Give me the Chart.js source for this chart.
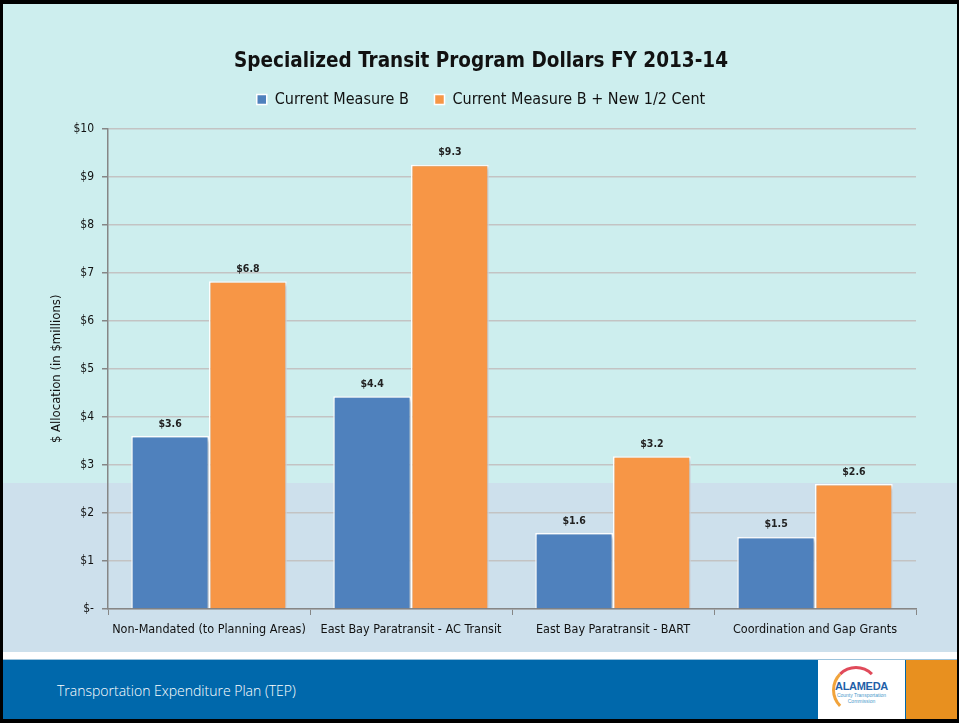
<!DOCTYPE html>
<html>
<head>
<meta charset="utf-8">
<script src="https://cdn.jsdelivr.net/npm/chart.js@4"></script>
<style>
  html, body { margin: 0; padding: 0; }
  body { width: 959px; height: 723px; position: relative; overflow: hidden; background: #000; }
  .slide { position: absolute; left: 3px; top: 4px; width: 954px; height: 715px; background: #cdeeee; overflow: hidden; }
  .bandeLower { position: absolute; left: 0; top: 479px; width: 954px; height: 169px; background: #cde0ec; }
  .faixaBranca { position: absolute; left: 0; top: 648px; width: 954px; height: 7px; background: #fff; border-bottom: 1px solid #9cc3dc; }
  .rodape { position: absolute; left: 0; top: 656px; width: 954px; height: 59px; background: #0068ab; }
  .rodape span { position: absolute; left: 54px; top: 21px; color: #fff; font: 300 14px 'Open Sans', sans-serif; }
  .logo { position: absolute; left: 815px; top: 656px; width: 87px; height: 59px; background: #fff; text-align: center; }
  .logo b { display: block; margin-top: 20px; font: bold 11px 'Liberation Sans', sans-serif; color: #1f5fa8; letter-spacing: -0.3px; }
  .logo i { display: block; font: 5px 'Liberation Sans', sans-serif; color: #4a9acb; font-style: normal; }
  .logo .arco { position: absolute; left: 14px; top: 6px; width: 42px; height: 42px; border-radius: 50%; border: 3px solid transparent; border-top-color: #e04a5a; border-left-color: #f1a33b; }
  .laranja { position: absolute; left: 903px; top: 656px; width: 51px; height: 59px; background: #e8901f; }
  canvas#grafico { position: absolute; left: 0; top: 0; }
</style>
</head>
<body>
<div class="slide">
  <div class="bandeLower"></div>
  <div class="faixaBranca"></div>
  <div class="rodape"><span>Transportation Expenditure Plan (TEP)</span></div>
  <div class="logo"><div class="arco"></div><b>ALAMEDA</b><i>County Transportation<br>Commission</i></div>
  <div class="laranja"></div>
</div>
<div style="position:absolute;left:0;top:0;width:959px;height:650px;">
  <canvas id="grafico"></canvas>
</div>
<script>
const categorias = ['Non-Mandated (to Planning Areas)', 'East Bay Paratransit - AC Transit', 'East Bay Paratransit - BART', 'Coordination and Gap Grants'];
const medidaAtual = [3.60, 4.43, 1.58, 1.50];
const medidaNova = [6.82, 9.25, 3.18, 2.60];
const ticksY = [0, 1, 2, 3, 4, 5, 6, 7, 8, 9, 10];

const fonteNarrow = "'Liberation Sans Narrow', 'DejaVu Sans Condensed', 'Liberation Sans', sans-serif";

const rotulosValores = {
  id: 'rotulosValores',
  afterDatasetsDraw(chart) {
    const ctx = chart.ctx;
    ctx.save();
    ctx.font = 'bold 10.5px ' + fonteNarrow;
    ctx.fillStyle = '#222';
    ctx.textAlign = 'center';
    ctx.textBaseline = 'bottom';
    chart.data.datasets.forEach(function(ds, i) {
      chart.getDatasetMeta(i).data.forEach(function(barra, j) {
        ctx.fillText('$' + ds.data[j].toFixed(1), barra.x, barra.y - 7);
      });
    });
    ctx.restore();
  }
};

const sombraBarras = {
  id: 'sombraBarras',
  beforeDatasetsDraw(chart) {
    const ctx = chart.ctx;
    ctx.save();
    ctx.shadowColor = 'rgba(60, 80, 110, 0.35)';
    ctx.shadowBlur = 4;
    ctx.shadowOffsetX = 2;
    ctx.shadowOffsetY = 2;
  },
  afterDatasetsDraw(chart) {
    chart.ctx.restore();
  }
};

// espaço extra abaixo da legenda
const folgaLegenda = {
  id: 'folgaLegenda',
  beforeLayout(chart) {
    const leg = chart.legend;
    if (leg && !leg._folga) {
      const fitOriginal = leg.fit;
      leg.fit = function() {
        fitOriginal.call(this);
        this.height += 11;
      };
      leg._folga = true;
    }
  }
};

document.addEventListener('DOMContentLoaded', function() {
  const ctx = document.getElementById('grafico').getContext('2d');
  new Chart(ctx, {
    type: 'bar',
    data: {
      labels: categorias,
      datasets: [
        {
          label: 'Current Measure B',
          data: medidaAtual,
          backgroundColor: '#4f81bd',
          borderColor: '#ffffff',
          borderWidth: 1.5
        },
        {
          label: 'Current Measure B + New 1/2 Cent',
          data: medidaNova,
          backgroundColor: '#f79646',
          borderColor: '#ffffff',
          borderWidth: 1.5
        }
      ]
    },
    options: {
      responsive: true,
      maintainAspectRatio: false,
      animation: false,
      layout: {
        padding: { left: 46, right: 43, top: 11, bottom: 0 }
      },
      datasets: {
        bar: {
          categoryPercentage: 0.77,
          barPercentage: 1
        }
      },
      plugins: {
        title: {
          display: true,
          text: 'Specialized Transit Program Dollars FY 2013-14',
          color: '#111',
          font: { family: fonteNarrow, size: 20.5, weight: 'bold' },
          padding: { top: 38, bottom: -3 }
        },
        legend: {
          display: true,
          position: 'top',
          labels: {
            color: '#111',
            font: { family: fonteNarrow, size: 16 },
            boxWidth: 10,
            boxHeight: 10,
            padding: 21,
            useBorderRadius: false,
            generateLabels: function(chart) {
              const itens = Chart.defaults.plugins.legend.labels.generateLabels(chart);
              itens[0].text = itens[0].text + ' ';
              return itens;
            }
          }
        },
        tooltip: { enabled: false }
      },
      scales: {
        x: {
          offset: true,
          afterFit: function(escala) { escala.height = 41; },
          grid: {
            display: true,
            offset: true,
            drawOnChartArea: false,
            tickLength: 6,
            tickColor: '#868686'
          },
          border: { color: '#868686', width: 1.5 },
          ticks: {
            color: '#111',
            font: { family: fonteNarrow, size: 12.5 },
            padding: 7,
            maxRotation: 0,
            autoSkip: false
          }
        },
        y: {
          min: 0,
          max: 10,
          afterFit: function(escala) { escala.width = 62; },
          afterBuildTicks: function(escala) {
            escala.ticks = ticksY.map(function(v) { return { value: v }; });
          },
          grid: {
            color: '#c3c3c3',
            lineWidth: 1.5,
            tickLength: 6,
            tickColor: '#868686'
          },
          border: { color: '#868686', width: 1.5 },
          ticks: {
            color: '#111',
            font: { family: fonteNarrow, size: 12 },
            padding: 8,
            callback: function(valor) {
              return valor === 0 ? '$-' : '$' + valor;
            }
          },
          title: {
            display: true,
            text: '$ Allocation (in $millions)',
            color: '#111',
            font: { family: fonteNarrow, size: 13 },
            padding: { top: 3, bottom: 4 }
          }
        }
      }
    },
    plugins: [folgaLegenda, sombraBarras, rotulosValores]
  });
});
</script>
</body>
</html>
